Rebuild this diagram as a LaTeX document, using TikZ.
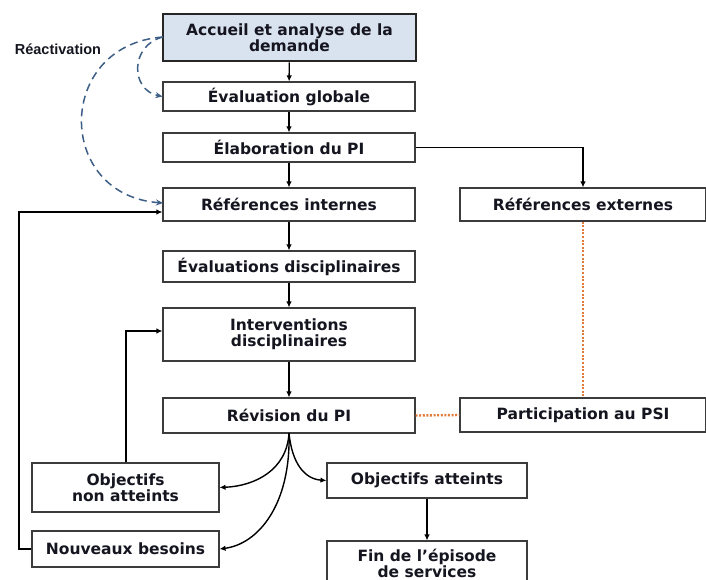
\documentclass[tikz,border=0pt]{standalone}
\usepackage{fontspec}
\setmainfont{DejaVu Sans}
\newfontfamily\labelfont{Liberation Sans}
\usetikzlibrary{arrows.meta}

\definecolor{boxline}{HTML}{3C3C3C}
\definecolor{headfill}{HTML}{D9E2EF}
\definecolor{reactblue}{HTML}{3D5E85}
\definecolor{psiorange}{HTML}{E07B39}
\definecolor{inktext}{HTML}{151520}

\tikzset{
  stepbox/.style={draw=boxline, line width=1.1pt, fill=white, inner sep=0pt,
    align=center, text=inktext,
    font=\fontsize{15.5}{16}\selectfont\bfseries},
  headbox/.style={stepbox, draw=black!85, line width=2.6pt, fill=headfill},
  flow/.style={draw=black, line width=1.4pt, -{Latex[length=6pt,width=5.5pt]}},
  react/.style={draw=reactblue, line width=1.5pt, dash pattern=on 8pt off 5pt,
    -{Stealth[length=7pt,width=6pt]}},
  psilink/.style={draw=psiorange, line width=2.4pt, dash pattern=on 2pt off 1.6pt},
}

\begin{document}
\begin{tikzpicture}[x=1pt, y=-1pt]
  \useasboundingbox (0,0) rectangle (706,580);

  % main column
  \node[headbox, minimum width=253pt, minimum height=47pt] (accueil) at (289.5,37.5)
    {Accueil et analyse de la\\demande};
  \node[stepbox, minimum width=252pt, minimum height=29pt] (evalg) at (289,96.5)
    {Évaluation globale};
  \node[stepbox, minimum width=252pt, minimum height=29pt] (elab) at (289,147.5)
    {Élaboration du PI};
  \node[stepbox, minimum width=252pt, minimum height=33pt] (refint) at (289,204.5)
    {Références internes};
  \node[stepbox, minimum width=252pt, minimum height=31pt] (evald) at (289,266.5)
    {Évaluations disciplinaires};
  \node[stepbox, minimum width=252pt, minimum height=53pt] (interv) at (289,334.5)
    {Interventions\\disciplinaires};
  \node[stepbox, minimum width=252pt, minimum height=35pt] (revis) at (289,415.5)
    {Révision du PI};

  % right column
  \node[stepbox, minimum width=246pt, minimum height=33pt] (refext) at (583,204.5)
    {Références externes};
  \node[stepbox, minimum width=246pt, minimum height=34pt] (psi) at (583,415)
    {Participation au PSI};

  % outcomes
  \node[stepbox, minimum width=187pt, minimum height=49pt] (nonatt) at (125.5,487.5)
    {Objectifs\\non atteints};
  \node[stepbox, minimum width=187pt, minimum height=36pt] (besoins) at (125.5,549)
    {Nouveaux besoins};
  \node[stepbox, minimum width=200pt, minimum height=35pt] (atteints) at (427,480.5)
    {Objectifs atteints};
  \node[stepbox, minimum width=200pt, minimum height=44pt] (fin) at (427,563)
    {Fin de l’épisode\\de services};

  \node[font=\labelfont\fontsize{14.5}{16}\selectfont\bfseries, text=inktext] (react) at (58,49)
    {Réactivation};

  % main sequence
  \draw[flow] (accueil) -- (evalg);
  \draw[flow] (evalg) -- (elab);
  \draw[flow] (elab) -- (refint);
  \draw[flow] (refint) -- (evald);
  \draw[flow] (evald) -- (interv);
  \draw[flow] (interv) -- (revis);
  \draw[flow] (elab.east) -| (refext.north);
  \draw[flow] (atteints) -- (atteints |- fin.north);

  % branches from the revision
  \coordinate (split) at (289,433);
  \draw[flow] (split) .. controls (287,470) and (255,486) .. (nonatt.east);
  \draw[flow] (split) .. controls (291,505) and (258,544) .. (besoins.east);
  \draw[flow] (split) .. controls (292,464) and (305,479) .. (atteints.west);

  % feedback loops
  \coordinate (loopa) at (126,331);
  \draw[flow] (nonatt.north -| loopa) -- (loopa) -- (loopa -| interv.west);
  \coordinate (loopb) at (19,212);
  \draw[flow] (besoins.west) -| (loopb) -- (loopb -| refint.west);

  % reactivation
  \coordinate (rstart) at (163,37);
  \draw[react] (rstart) .. controls (130,45) and (130,90) .. (evalg.west);
  \draw[react] (rstart) .. controls (55,45) and (55,195) .. (163,203);

  % PSI links
  \draw[psilink] (refext.south) -- (psi.north);
  \draw[psilink] (revis.east) -- (psi.west);
\end{tikzpicture}
\end{document}
